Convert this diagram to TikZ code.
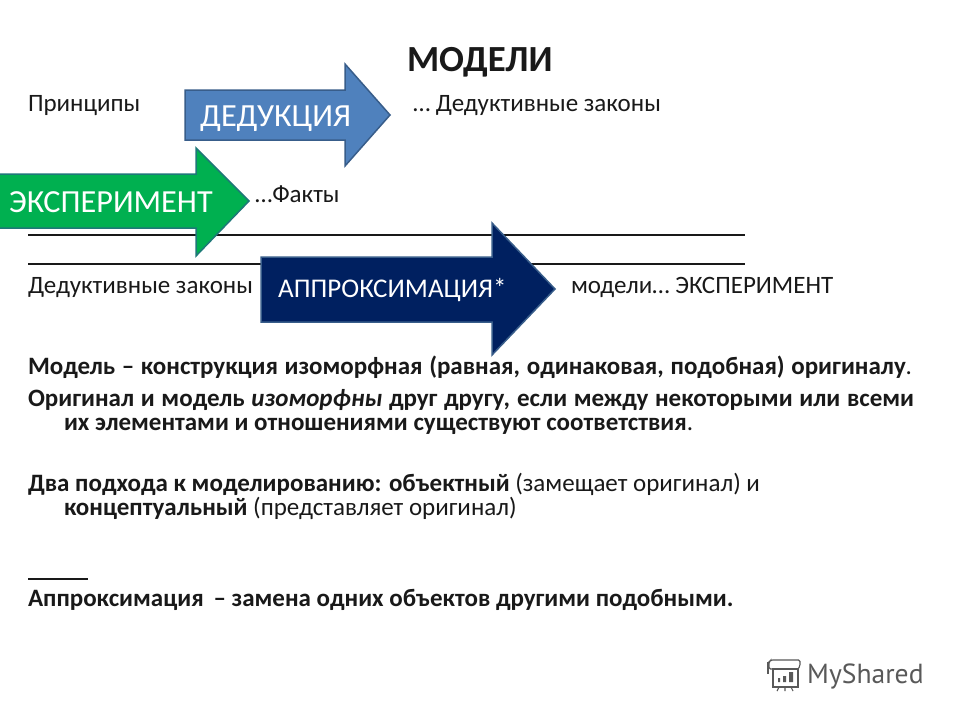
\documentclass[tikz,border=0pt]{standalone}
\usepackage{fontspec}
\setmainfont{Carlito}
\newfontfamily\logofont{PT Sans}
\tikzset{
  x=1pt,y=-1pt,
  txt/.style={anchor=base west,inner sep=0pt,outer sep=0pt,font=\fontsize{25}{30}\selectfont,text=black!90},
  btxt/.style={txt,font=\fontsize{25}{30}\selectfont\bfseries},
  arrowlabel/.style={anchor=base west,inner sep=0pt,text=white},
  rulerline/.style={draw=black!90,line width=1.3pt},
  logoline/.style={draw=black!65,line width=1.1pt}
}
\newcommand{\just}[2]{\makebox[#1pt][s]{#2}}
\begin{document}
\begin{tikzpicture}
\useasboundingbox (0,0) rectangle (960,720);
\fill[white] (0,0) rectangle (960,720);
% text behind arrows
\node[txt,font=\fontsize{36.8}{44}\selectfont\bfseries] (title) at (407,71) {МОДЕЛИ};
\node[txt] (t1) at (28,111) {Принципы};
\node[txt] (t2) at (413,111) {… Дедуктивные законы};
\node[txt] (t3) at (255,202) {…Факты};
\coordinate (l1a) at (28,235); \coordinate (l1b) at (745,235);
\coordinate (l2a) at (28,264); \coordinate (l2b) at (745,264);
\draw[rulerline] (l1a) -- (l1b);
\draw[rulerline] (l2a) -- (l2b);
\node[txt] (t4) at (28,293) {Дедуктивные законы};
\node[txt] (t5) at (571,293) {модели… ЭКСПЕРИМЕНТ};
% arrows
\draw[fill={rgb,255:red,79;green,129;blue,189},draw={rgb,255:red,56;green,93;blue,138},line width=1.5pt,line join=miter]
  (185,90) -- (345,90) -- (345,64) -- (390,115) -- (345,166) -- (345,140) -- (185,140) -- cycle;
\node[arrowlabel,font=\fontsize{32.3}{38}\selectfont] (a1) at (200,126) {ДЕДУКЦИЯ};
\draw[fill={rgb,255:red,0;green,176;blue,80},draw={rgb,255:red,30;green,120;blue,120},line width=1.5pt]
  (-2,174) -- (196,174) -- (196,148) -- (249,201) -- (196,256) -- (196,228) -- (-2,228) -- cycle;
\node[arrowlabel,font=\fontsize{32.2}{38}\selectfont] (a2) at (9,212) {ЭКСПЕРИМЕНТ};
\draw[fill={rgb,255:red,0;green,32;blue,96},draw={rgb,255:red,56;green,93;blue,138},line width=1.5pt]
  (261,257) -- (492,257) -- (492,223) -- (555,289) -- (492,355) -- (492,322) -- (261,322) -- cycle;
\node[arrowlabel,font=\fontsize{27}{32}\selectfont] (a3) at (278,297) {АППРОКСИМАЦИЯ*};
% paragraphs
\node[btxt] (p1) at (28,374) {\just{884}{Модель – конструкция изоморфная (равная, одинаковая, подобная) оригиналу\textmd{.}}};
\node[btxt] (p2) at (28,406) {\just{886}{Оригинал и модель \textit{изоморфны} друг другу, если между некоторыми или всеми}};
\node[btxt] (p3) at (64,430) {их элементами и отношениями существуют соответствия\textmd{.}};
\node[txt] (p4) at (28,491) {\textbf{Два подхода к моделированию: объектный} (замещает оригинал) и};
\node[txt] (p5) at (64,515) {\textbf{концептуальный} (представляет оригинал)};
\coordinate (l3a) at (28,579); \coordinate (l3b) at (88,579);
\draw[rulerline,line width=1.6pt] (l3a) -- (l3b);
\node[btxt] (p6) at (28,606) {Аппроксимация \,– замена одних объектов другими подобными.};
% logo
\node[anchor=base west,inner sep=0pt,font=\logofont\fontsize{27.6}{33}\selectfont,text=black!65] (logo) at (807,683) {MyShared};
\draw[logoline] (773,669) rectangle (798,687);
\draw[logoline,rounded corners=1.5pt] (773,669) -- (769,669) -- (769,662) -- (771,660) -- (800,660) -- (800,666) -- (798,669);
\draw[logoline] (768,662) -- (768,674);
\fill[black!65] (778,678) rectangle (780,682) (783,676) rectangle (786,682) (789,672) rectangle (793,682);
\draw[logoline] (779,687) -- (777,691) (785,687) -- (785,691) (791,687) -- (793,691);
\end{tikzpicture}
\end{document}
